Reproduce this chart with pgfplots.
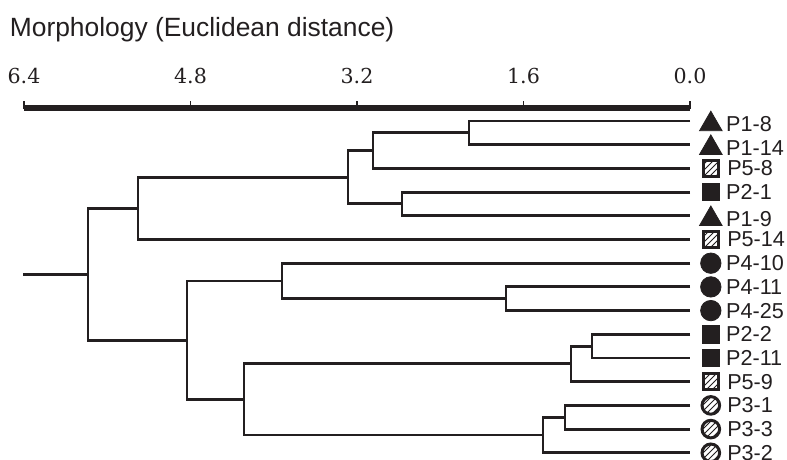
\documentclass[border=0pt]{standalone}
\usepackage{pgfplots}
\pgfplotsset{compat=1.18}
\usepackage{fontspec}
\setmainfont{Liberation Sans}
\newfontfamily\tickfont{DejaVu Serif}
\usetikzlibrary{patterns}
\definecolor{ink}{HTML}{231F20}
\begin{document}
\begin{tikzpicture}
\begin{axis}[
  scale only axis, width=393.5pt, height=230pt,
  xmin=-0.932, xmax=6.631, x dir=reverse,
  ymin=-5.105, ymax=14.304, y dir=reverse,
  hide axis, clip=false,
  tree/.style={ink, line width=1.45pt, no markers, line join=miter},
  leaf/.style={only marks, nodes near coords, point meta=explicit symbolic,
    nodes near coords style={anchor=west, inner sep=0pt, xshift=7.5pt,
      font=\fontsize{10.8}{12}\selectfont, text=ink}},
]
% dendrogram (x = Euclidean distance, y = leaf order)
\addplot[tree] coordinates {(0,0) (2.124,0) (2.124,1) (0,1)};
\addplot[tree] coordinates {(2.124,0.5) (3.046,0.5) (3.046,2) (0,2)};
\addplot[tree] coordinates {(0,3) (2.768,3) (2.768,4) (0,4)};
\addplot[tree] coordinates {(3.046,1.25) (3.287,1.25) (3.287,3.5) (2.768,3.5)};
\addplot[tree] coordinates {(3.287,2.375) (5.305,2.375) (5.305,5) (0,5)};
\addplot[tree] coordinates {(0,7) (1.768,7) (1.768,8) (0,8)};
\addplot[tree] coordinates {(0,6) (3.921,6) (3.921,7.5) (1.768,7.5)};
\addplot[tree] coordinates {(0,9) (0.942,9) (0.942,10) (0,10)};
\addplot[tree] coordinates {(0.942,9.5) (1.144,9.5) (1.144,11) (0,11)};
\addplot[tree] coordinates {(0,12) (1.201,12) (1.201,13) (0,13)};
\addplot[tree] coordinates {(1.201,12.5) (1.413,12.5) (1.413,14) (0,14)};
\addplot[tree] coordinates {(1.144,10.25) (4.286,10.25) (4.286,13.25) (1.413,13.25)};
\addplot[tree] coordinates {(3.921,6.75) (4.834,6.75) (4.834,11.75) (4.286,11.75)};
\addplot[tree] coordinates {(5.305,3.6875) (5.785,3.6875) (5.785,9.25) (4.834,9.25)};
\addplot[tree] coordinates {(5.785,6.46875) (6.41,6.46875)};
% scale bar
\addplot[ink, line width=2.6pt, no markers] coordinates {(6.4,-0.549) (0,-0.549)};
\pgfplotsinvokeforeach{6.4,4.8,3.2,1.6,0}{
  \addplot[ink, line width=0.9pt, no markers] coordinates {(#1,-0.5) (#1,-0.86)};
}
\addplot[draw=none, no markers, nodes near coords, point meta=explicit symbolic,
  nodes near coords style={anchor=center, inner sep=0pt,
    font=\tickfont\fontsize{10.3}{11}\selectfont, text=ink}]
  coordinates {(6.4,-1.9)[6.4] (4.8,-1.9)[4.8] (3.2,-1.9)[3.2] (1.6,-1.9)[1.6] (0,-1.9)[0.0]};
% leaf markers and labels
\addplot[leaf, mark=triangle*, mark size=6.5pt, mark options={draw=ink, fill=ink, yshift=-1.6pt}]
  coordinates {(-0.2,0)[P1-8] (-0.2,1)[P1-14] (-0.2,4)[P1-9]};
\addplot[leaf, mark=square*, mark size=4.4pt, mark options={draw=ink, fill=ink}]
  coordinates {(-0.2,3)[P2-1] (-0.2,9)[P2-2] (-0.2,10)[P2-11]};
\addplot[leaf, mark=*, mark size=5.1pt, mark options={draw=ink, fill=ink}]
  coordinates {(-0.2,6)[P4-10] (-0.2,7)[P4-11] (-0.2,8)[P4-25]};
\addplot[leaf, mark=square*, mark size=3.9pt, mark options={draw=ink, line width=1.5pt, pattern=north east lines, pattern color=ink}]
  coordinates {(-0.2,2)[P5-8] (-0.2,5)[P5-14] (-0.2,11)[P5-9]};
\addplot[leaf, mark=*, mark size=4.4pt, mark options={draw=ink, line width=1.5pt, pattern=north east lines, pattern color=ink}]
  coordinates {(-0.2,12)[P3-1] (-0.2,13)[P3-3] (-0.2,14)[P3-2]};
\node[anchor=base west, inner sep=0pt, font=\fontsize{13.2}{15}\selectfont, text=ink]
  at (axis cs:6.54,-3.544) {Morphology (Euclidean distance)};
\end{axis}
\pgfresetboundingbox
\path[use as bounding box] (current axis.south west) rectangle (current axis.north east);
\end{tikzpicture}
\end{document}
